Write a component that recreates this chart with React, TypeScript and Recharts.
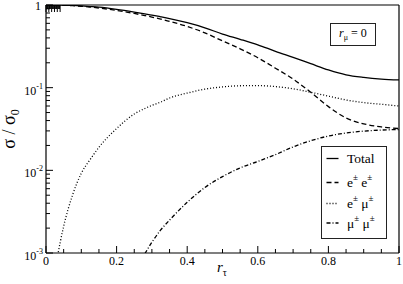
import React from "react";
import { Legend, Line, LineChart, XAxis, YAxis } from "recharts";

// r_tau sample points
const rValues = [
  0, 0.03, 0.05, 0.075, 0.1, 0.125, 0.15, 0.2, 0.25, 0.28, 0.3, 0.325, 0.35, 0.4, 0.45, 0.5,
  0.55, 0.6, 0.65, 0.7, 0.75, 0.8, 0.85, 0.9, 0.95, 1
];

const totalValues = [
  1, 0.999, 0.996, 0.988, 0.975, 0.958, 0.94, 0.885, 0.82, 0.78, 0.755, 0.72, 0.685, 0.61, 0.53,
  0.445, 0.385, 0.33, 0.275, 0.232, 0.195, 0.164, 0.143, 0.133, 0.127, 0.124
];

const eeValues = [
  1, 0.998, 0.993, 0.982, 0.965, 0.945, 0.92, 0.86, 0.79, 0.745, 0.715, 0.675, 0.635, 0.55, 0.46,
  0.368, 0.295, 0.23, 0.172, 0.127, 0.088, 0.059, 0.043, 0.0365, 0.0335, 0.032
];

const emuValues = [
  null, 0.0008, 0.0021, 0.005, 0.0092, 0.0135, 0.019, 0.032, 0.048, 0.056, 0.061, 0.067, 0.075,
  0.086, 0.096, 0.102, 0.1055, 0.106, 0.103, 0.097, 0.088, 0.079, 0.071, 0.066, 0.063, 0.06
];

const mumuValues = [
  null, null, null, null, null, null, null, null, null, 0.00098, 0.00135, 0.0019, 0.0025, 0.0041,
  0.0062, 0.0084, 0.0107, 0.0128, 0.0155, 0.0192, 0.0228, 0.026, 0.0283, 0.0298, 0.0307, 0.0312
];

const xTicks = [
  0, 0.05, 0.1, 0.15, 0.2, 0.25, 0.3, 0.35, 0.4, 0.45, 0.5, 0.55, 0.6, 0.65, 0.7, 0.75, 0.8, 0.85,
  0.9, 0.95, 1
];
const xTickLabels: Record<string, string> = {
  "0": "0",
  "0.2": "0.2",
  "0.4": "0.4",
  "0.6": "0.6",
  "0.8": "0.8",
  "1": "1"
};

const yTicks = [
  0.001, 0.002, 0.003, 0.004, 0.005, 0.006, 0.007, 0.008, 0.009,
  0.01, 0.02, 0.03, 0.04, 0.05, 0.06, 0.07, 0.08, 0.09,
  0.1, 0.2, 0.3, 0.4, 0.5, 0.6, 0.7, 0.8, 0.9, 1
];
const yTickExponents: Record<string, string> = { "0.001": "-3", "0.01": "-2", "0.1": "-1", "1": "0" };

const data = rValues.map((r, i) => ({
  r,
  total: totalValues[i],
  ee: eeValues[i],
  emu: emuValues[i],
  mumu: mumuValues[i]
}));

// only this exact family name resolves to a serif face in the sandbox
const SERIF = { fontFamily: "Liberation Serif" };
const AXIS = { stroke: "#000", strokeWidth: 1.2 };

function XTick({ x, y, payload, top }: any) {
  const label = xTickLabels[String(payload.value)];
  const len = label ? 7 : 4;
  const dir = top ? 1 : -1;
  return (
    <g>
      <line x1={x} x2={x} y1={y} y2={y + dir * len} stroke="#000" strokeWidth={1} />
      {!top && label && (
        <text x={x} y={y + 12} textAnchor="middle" fontSize={12} style={SERIF} fill="#000">
          {label}
        </text>
      )}
    </g>
  );
}

function YTick({ x, y, payload, right }: any) {
  const exp = yTickExponents[String(payload.value)];
  const len = exp ? 7 : 4;
  const dir = right ? -1 : 1;
  let label = null;
  if (!right && exp === "0") {
    label = (
      <text x={x - 5} y={y + 4.5} textAnchor="end" fontSize={12} style={SERIF} fill="#000">
        1
      </text>
    );
  } else if (!right && exp) {
    label = (
      <text x={x - 3} y={y + 7} textAnchor="end" fontSize={12} style={SERIF} fill="#000">
        10
        <tspan dy={-6} fontSize={8}>
          {exp}
        </tspan>
      </text>
    );
  }
  return (
    <g>
      <line x1={x} x2={x + dir * len} y1={y} y2={y} stroke="#000" strokeWidth={1} />
      {label}
    </g>
  );
}

const series = [
  { key: "total", label: "Total", dash: undefined },
  { key: "ee", label: "ee", dash: "5 3" },
  { key: "emu", label: "emu", dash: "1 2" },
  { key: "mumu", label: "mumu", dash: "4 2 1 2" }
];

function Sup({ base }: { base: string }) {
  return (
    <>
      <tspan>{base}</tspan>
      <tspan dy={-7} fontSize={9}>
        ±
      </tspan>
      <tspan dy={7}> </tspan>
    </>
  );
}

function LegendBox() {
  const rows = [
    { y: 11.5, dash: undefined, text: <tspan>Total</tspan> },
    { y: 35.5, dash: "5 3", text: (<><Sup base="e" /><Sup base="e" /></>) },
    { y: 56.5, dash: "1 2", text: (<><Sup base="e" /><Sup base="μ" /></>) },
    { y: 76, dash: "4 2 1 2", text: (<><Sup base="μ" /><Sup base="μ" /></>) }
  ];
  return (
    <div
      style={{
        width: 66,
        height: 93,
        boxSizing: "border-box",
        border: "1px solid #222",
        background: "#fff"
      }}
    >
      <svg width={64} height={91} style={{ display: "block" }}>
        {rows.map((row, i) => (
          <g key={i}>
            <line x1={4.5} x2={16.5} y1={row.y} y2={row.y} stroke="#000" strokeWidth={1.3} strokeDasharray={row.dash} />
            <text x={25} y={row.y + (i === 0 ? 4 : 4.5)} fontSize={13.5} style={SERIF} fill="#000" xmlSpace="preserve">
              {row.text}
            </text>
          </g>
        ))}
      </svg>
    </div>
  );
}

export default function App() {
  return (
    <div style={{ position: "absolute", left: 0, top: 0, width: 403, height: 284, background: "#fff" }}>
      <LineChart width={403} height={284} data={data} margin={{ top: 0, right: 0, bottom: 0, left: 0 }}>
        <XAxis
          dataKey="r"
          type="number"
          domain={[0, 1]}
          ticks={xTicks}
          interval={0}
          height={31}
          tickSize={0}
          tickMargin={0}
          tickLine={false}
          axisLine={AXIS}
          tick={(p: any) => <XTick {...p} />}
          allowDataOverflow
          label={{
            content: () => (
              <text x={217} y={272} fontSize={15} style={SERIF} fill="#000">
                <tspan fontStyle="italic">r</tspan>
                <tspan dy={4} fontSize={10}>τ</tspan>
              </text>
            )
          }}
        />
        <XAxis
          xAxisId="top"
          orientation="top"
          type="number"
          domain={[0, 1]}
          ticks={xTicks}
          interval={0}
          height={5}
          tickSize={0}
          tickMargin={0}
          tickLine={false}
          axisLine={AXIS}
          tick={(p: any) => <XTick {...p} top />}
        />
        <YAxis
          scale="log"
          type="number"
          domain={[0.001, 1]}
          ticks={yTicks}
          interval={0}
          width={46}
          tickSize={0}
          tickMargin={0}
          tickLine={false}
          axisLine={AXIS}
          tick={(p: any) => <YTick {...p} />}
          allowDataOverflow
          label={{
            content: () => (
              <text transform="translate(15,129) rotate(-90)" textAnchor="middle" fontSize={18} style={SERIF} fill="#000">
                σ / σ<tspan dy={4} fontSize={12}>0</tspan>
              </text>
            )
          }}
        />
        <YAxis
          yAxisId="right"
          orientation="right"
          scale="log"
          type="number"
          domain={[0.001, 1]}
          ticks={yTicks}
          interval={0}
          width={4}
          tickSize={0}
          tickMargin={0}
          tickLine={false}
          axisLine={AXIS}
          tick={(p: any) => <YTick {...p} right />}
        />
        {series.map((s) => (
          <Line
            key={s.key}
            type="monotone"
            dataKey={s.key}
            stroke="#000"
            strokeWidth={1.3}
            strokeDasharray={s.dash}
            dot={false}
            activeDot={false}
            isAnimationActive={false}
            name={s.label}
          />
        ))}
        <Legend
          layout="vertical"
          align="center"
          verticalAlign="middle"
          content={() => <LegendBox />}
          wrapperStyle={{ left: 321, top: 146, width: 66, height: 93 }}
        />
      </LineChart>
      <svg width={403} height={284} style={{ position: "absolute", left: 0, top: 0, pointerEvents: "none" }}>
        <rect x={330.5} y={23.5} width={45} height={22} fill="#fff" stroke="#222" strokeWidth={1} />
        <text x={339} y={36.5} fontSize={12} style={SERIF} fill="#000" xmlSpace="preserve">
          <tspan fontStyle="italic">r</tspan>
          <tspan dy={3} fontSize={8}>μ</tspan>
          <tspan dy={-3}> = 0</tspan>
        </text>
      </svg>
    </div>
  );
}
